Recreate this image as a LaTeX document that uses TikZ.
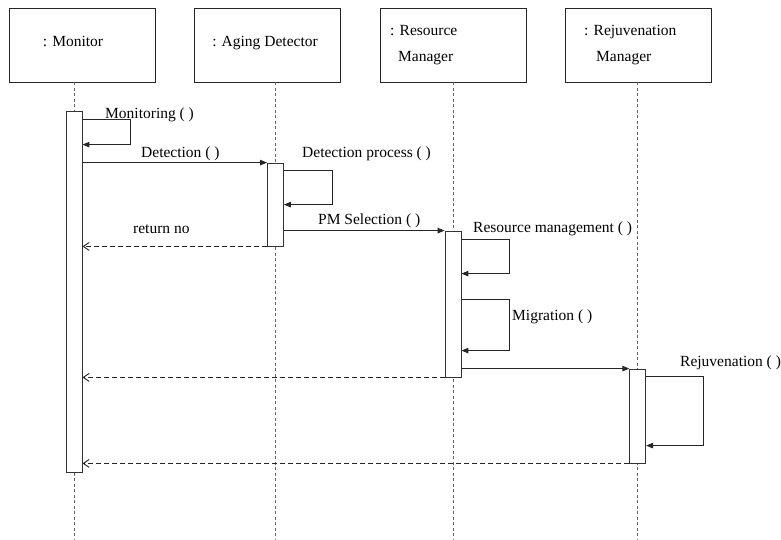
\documentclass[tikz,border=0pt]{standalone}
\usepackage{fontspec}
\setmainfont{Liberation Serif}
\usetikzlibrary{arrows.meta}

\tikzset{
    pbox/.style={draw=black!85,line width=0.9pt,minimum width=146pt,minimum height=74pt,inner sep=0pt},
    ptxt/.style={inner sep=0pt},
    life/.style={draw=black!60,line width=0.8pt,dash pattern=on 3pt off 2.5pt},
    act/.style={draw=black!80,fill=white,line width=0.8pt,minimum width=16pt,inner sep=0pt},
    call/.style={draw=black!85,line width=0.9pt,-{Triangle[length=7pt,width=5.5pt]}},
    ret/.style={draw=black!85,line width=0.9pt,dash pattern=on 5pt off 3pt,-{Straight Barb[length=6pt,width=8pt]}},
    lbl/.style={inner sep=0pt,anchor=base west}
}

\begin{document}
\begin{tikzpicture}[x=1pt,y=-1pt,font=\fontsize{15.5}{26}\selectfont]
    \useasboundingbox (0,0) rectangle (781,539);
    \foreach \nm/\bx/\lx in {mon/82/74,age/267.5/275.5,res/453/453,rej/638/637.7} {
        \node[pbox] (b\nm) at (\bx,45) {};
        \coordinate (e\nm) at (\lx,539);
        \draw[life] (b\nm.south -| e\nm) -- (e\nm);
    }
    \node[ptxt,anchor=base] (tmon) at (73,46) {: Monitor};
    \node[ptxt,anchor=base] (tage) at (265,46) {: Aging Detector};
    \node[ptxt,anchor=west,align=left] (tres) at (390,45.5) {: Resource\\\hspace*{8pt}Manager};
    \node[ptxt,anchor=west,align=left] (trej) at (584,45.5) {: Rejuvenation\\\hspace*{12pt}Manager};

    \node[act,minimum height=361pt] (amon) at (74,291.5) {};
    \node[act,minimum height=83pt] (aage) at (275.5,204.5) {};
    \node[act,minimum height=146pt] (ares) at (453,304) {};
    \node[act,minimum height=94pt] (arej) at (637.7,416) {};

    \draw[call] ([yshift=-9pt]amon.north east) -- ++(48,0) |- ([yshift=-34pt]amon.north east);
    \draw[call] (amon.east |- aage.north) -- (aage.north west);
    \draw[call] ([yshift=-8pt]aage.north east) -- ++(49,0) |- ([yshift=-42pt]aage.north east);
    \draw[call] (aage.east |- ares.north) -- (ares.north west);
    \draw[ret] (aage.south west) -- (amon.east |- aage.south);
    \draw[call] ([yshift=-9pt]ares.north east) -- ++(48,0) |- ([yshift=-43pt]ares.north east);
    \draw[call] ([yshift=-69pt]ares.north east) -- ++(48,0) |- ([yshift=-120pt]ares.north east);
    \draw[call] (ares.east |- arej.north) -- (arej.north west);
    \draw[ret] (ares.south west) -- (amon.east |- ares.south);
    \draw[call] ([yshift=-8pt]arej.north east) -- ++(57,0) |- ([yshift=-77pt]arej.north east);
    \draw[ret] (arej.south west) -- (amon.east |- arej.south);

    \node[lbl] (lmonit) at (105,118) {Monitoring ( )};
    \node[lbl] (ldet) at (141,157) {Detection ( )};
    \node[lbl] (ldetp) at (302,157) {Detection process ( )};
    \node[lbl] (lpm) at (318,224) {PM Selection ( )};
    \node[lbl] (lret) at (133,233) {return no};
    \node[lbl] (lres) at (473,232) {Resource management ( )};
    \node[lbl] (lmig) at (512,320) {Migration ( )};
    \node[lbl] (lrej) at (680,366) {Rejuvenation ( )};
\end{tikzpicture}
\end{document}
